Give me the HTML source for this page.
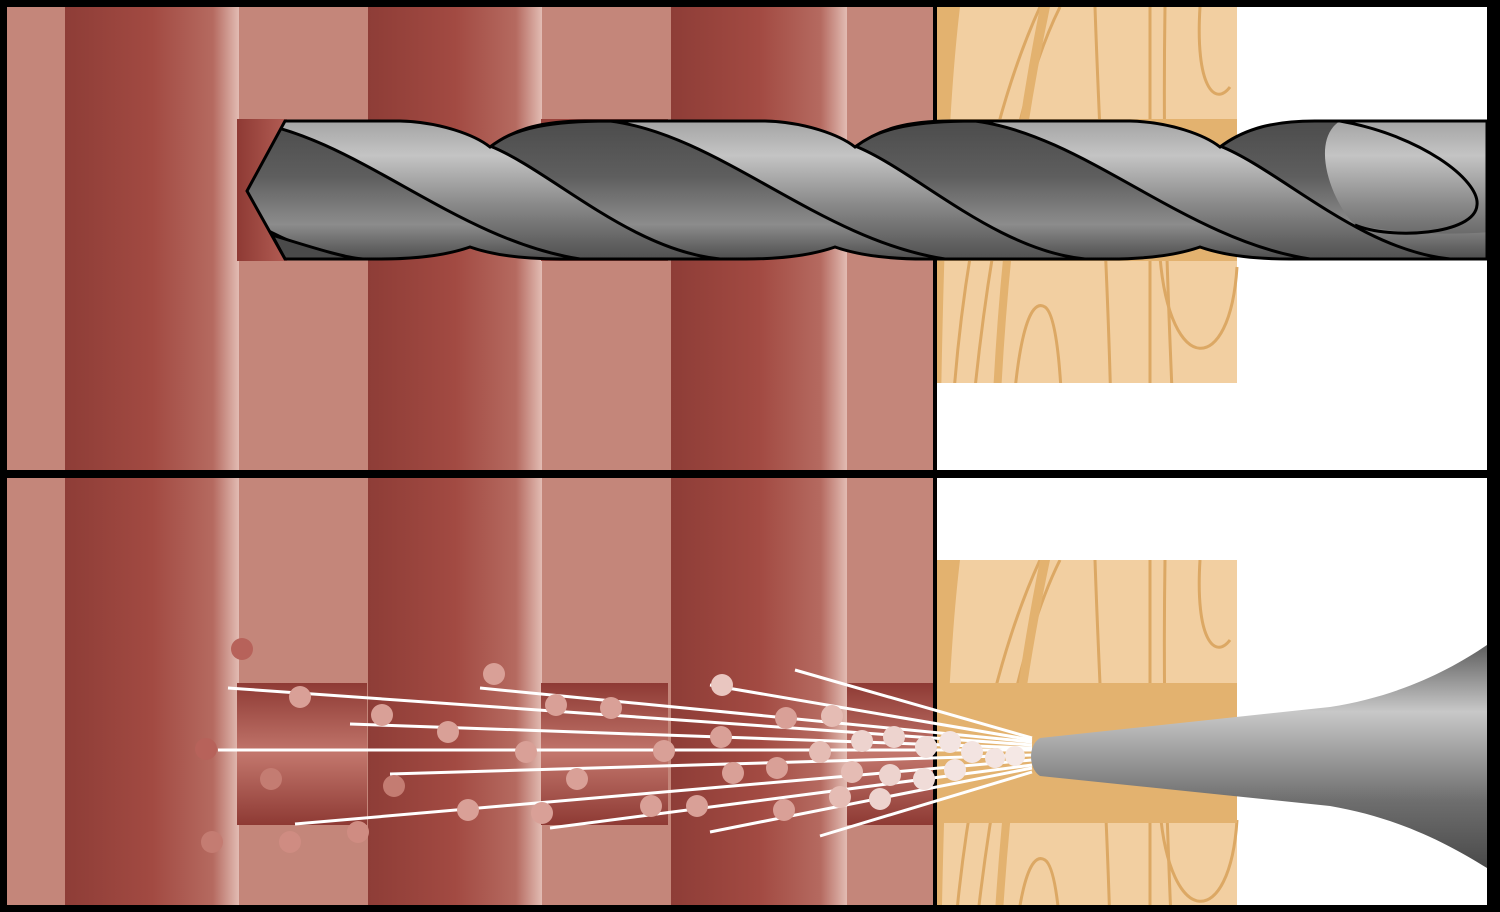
<!DOCTYPE html>
<html><head><meta charset="utf-8"><style>html,body{margin:0;padding:0;background:#000;width:1500px;height:912px;overflow:hidden}svg{display:block}</style></head><body>
<svg width="1500" height="912" viewBox="0 0 1500 912" xmlns="http://www.w3.org/2000/svg">
<defs>
<linearGradient id="col" x1="0" x2="1" y1="0" y2="0">
<stop offset="0" stop-color="#8e3d37"/><stop offset="0.5" stop-color="#a24a42"/><stop offset="0.85" stop-color="#b56a60"/><stop offset="1" stop-color="#e2bcb3"/></linearGradient>
<linearGradient id="hole" x1="0" x2="0" y1="0" y2="1"><stop offset="0" stop-color="#8e3a34"/><stop offset="0.5" stop-color="#c2766c"/><stop offset="1" stop-color="#8e3a34"/></linearGradient>
<linearGradient id="hole2" x1="0" x2="1" y1="0" y2="0"><stop offset="0" stop-color="#8e3a34"/><stop offset="1" stop-color="#b35d54"/></linearGradient>
<linearGradient id="light" x1="0" x2="0" y1="121" y2="259" gradientUnits="userSpaceOnUse"><stop offset="0" stop-color="#a4a4a4"/><stop offset="0.25" stop-color="#c4c4c4"/><stop offset="0.6" stop-color="#8a8a8a"/><stop offset="1" stop-color="#505050"/></linearGradient>
<linearGradient id="dark" x1="0" x2="0" y1="121" y2="259" gradientUnits="userSpaceOnUse"><stop offset="0" stop-color="#4c4c4c"/><stop offset="0.4" stop-color="#5e5e5e"/><stop offset="0.75" stop-color="#8c8c8c"/><stop offset="1" stop-color="#4e4e4e"/></linearGradient>
<linearGradient id="noz" x1="0" x2="0" y1="0" y2="1"><stop offset="0" stop-color="#5e5e5e"/><stop offset="0.3" stop-color="#c8c8c8"/><stop offset="0.7" stop-color="#6e6e6e"/><stop offset="1" stop-color="#4a4a4a"/></linearGradient>
<path id="sil" d="M247,191 L285,121 L400,121 C440,122 475,135 490,147 C515,128 545,121 585,121 L765,121 C805,122 840,135 855,147 C880,128 910,121 950,121 L1130,121 C1170,122 1205,135 1220,147 C1245,128 1275,121 1315,121 L1487,121 L1487,259 L1290,259 C1250,259 1220,254 1200,247 C1180,254 1150,259 1110,259 L925,259 C885,259 855,254 835,247 C815,254 785,259 745,259 L560,259 C520,259 490,254 470,247 C450,254 420,259 380,259 L285,259 Z"/>
<clipPath id="drill"><use href="#sil"/></clipPath>
<g id="wood">
<rect x="937" y="0" width="300" height="460" fill="#f2cfa1"/>
<g fill="none" stroke="#dca864" stroke-width="3">
<path d="M950,460 C955,300 985,120 1040,0"/><path d="M968,460 C980,300 1010,100 1060,0"/>
<path d="M1010,460 C1015,330 1030,290 1045,300 C1060,310 1062,400 1065,460"/>
<path d="M1095,0 C1100,150 1110,300 1112,460"/>
<path d="M1150,0 L1150,460"/><path d="M1165,0 C1162,200 1170,320 1175,460"/>
<path d="M1200,0 C1195,80 1215,100 1230,80"/><path d="M1160,250 C1170,370 1230,370 1237,260"/>
</g>
<path d="M937,0 L960,0 C948,100 943,250 940,460 L937,460Z" fill="#e3b26f"/>
<path d="M1040,0 C1010,150 995,300 990,460 L998,460 C1003,300 1018,150 1050,0Z" fill="#e3b26f"/>
</g>
</defs>
<rect width="1500" height="912" fill="#000"/>
<!-- top panel -->
<rect x="7" y="7" width="926" height="463" fill="#c4867a"/>
<rect x="65" y="7" width="174" height="463" fill="url(#col)"/>
<rect x="368" y="7" width="174" height="463" fill="url(#col)"/>
<rect x="671" y="7" width="176" height="463" fill="url(#col)"/>
<rect x="937" y="7" width="550" height="463" fill="#fff"/>
<svg x="0" y="7" width="1500" height="376" overflow="hidden"><use href="#wood"/></svg>
<rect x="937" y="119" width="300" height="142" fill="#e3b26f"/>
<rect x="237" y="119" width="50" height="142" fill="url(#hole2)"/>
<rect x="541" y="119" width="127" height="142" fill="#9a433c"/>
<rect x="933" y="7" width="4" height="898" fill="#000"/>
<!-- drill -->
<g clip-path="url(#drill)">
<rect x="240" y="115" width="1250" height="150" fill="url(#light)"/>
<g fill="url(#dark)" stroke="#000" stroke-width="3">
<path d="M125,146 C185,170 265,250 355,259 L580,259 C455,240 355,135 245,121 C185,121 150,128 125,146 Z"/>
<path d="M490,146 C550,170 630,250 720,259 L945,259 C820,240 720,135 610,121 C550,121 515,128 490,146 Z"/>
<path d="M855,146 C915,170 995,250 1085,259 L1310,259 C1185,240 1085,135 975,121 C915,121 880,128 855,146 Z"/>
</g>
<path d="M1220,146 C1280,170 1360,250 1450,259 L1490,259 L1490,232 C1440,236 1390,232 1355,225 C1330,200 1310,140 1340,121 C1280,121 1245,128 1220,146 Z" fill="url(#dark)"/>
<path d="M1220,146 C1280,170 1360,250 1450,259" fill="none" stroke="#000" stroke-width="3"/>
<path d="M272,235 C320,250 350,259 365,259 L285,259 Z" fill="#4a4a4a" stroke="#000" stroke-width="3"/>
<path d="M1340,121 C1420,135 1480,180 1477,205 C1475,235 1390,240 1355,225" fill="none" stroke="#000" stroke-width="3"/>
</g>
<use href="#sil" fill="none" stroke="#000" stroke-width="3"/>
<!-- dividers -->
<rect x="7" y="470" width="1480" height="8" fill="#000"/>
<!-- bottom panel -->
<rect x="7" y="478" width="926" height="427" fill="#c4867a"/>
<rect x="65" y="478" width="174" height="427" fill="url(#col)"/>
<rect x="368" y="478" width="174" height="427" fill="url(#col)"/>
<rect x="671" y="478" width="176" height="427" fill="url(#col)"/>
<rect x="937" y="478" width="550" height="427" fill="#fff"/>
<svg x="0" y="560" width="1500" height="345" overflow="hidden"><use href="#wood"/></svg>
<rect x="933" y="683" width="304" height="140" fill="#e3b26f"/>
<rect x="237" y="683" width="130" height="142" fill="url(#hole)"/>
<rect x="541" y="683" width="127" height="142" fill="url(#hole)"/>
<rect x="847" y="683" width="86" height="142" fill="url(#hole)"/>
<rect x="933" y="478" width="4" height="427" fill="#000"/>
<!-- spray -->
<g stroke="#fff" stroke-width="3">
<line x1="1032" y1="745" x2="228" y2="688"/><line x1="1032" y1="748" x2="350" y2="724"/>
<line x1="1032" y1="750" x2="218" y2="750"/><line x1="1032" y1="755" x2="390" y2="774"/>
<line x1="1032" y1="760" x2="295" y2="824"/><line x1="1032" y1="765" x2="550" y2="828"/>
<line x1="1032" y1="768" x2="710" y2="832"/><line x1="1032" y1="772" x2="820" y2="836"/>
<line x1="1032" y1="742" x2="480" y2="688"/><line x1="1032" y1="740" x2="710" y2="685"/>
<line x1="1032" y1="738" x2="795" y2="670"/>
</g>
<g fill="#d9a097">
<circle cx="242" cy="649" r="11" fill="#b7625a"/><circle cx="300" cy="697" r="11"/><circle cx="382" cy="715" r="11"/>
<circle cx="206" cy="749" r="11" fill="#b7625a"/><circle cx="271" cy="779" r="11" fill="#c47c72"/><circle cx="212" cy="842" r="11" fill="#c47c72"/>
<circle cx="290" cy="842" r="11" fill="#cf8c82"/><circle cx="358" cy="832" r="11" fill="#cf8c82"/><circle cx="394" cy="786" r="11" fill="#c47c72"/>
<circle cx="448" cy="732" r="11"/><circle cx="494" cy="674" r="11"/><circle cx="468" cy="810" r="11"/>
<circle cx="526" cy="752" r="11"/><circle cx="556" cy="705" r="11"/><circle cx="577" cy="779" r="11"/>
<circle cx="542" cy="813" r="11"/><circle cx="611" cy="708" r="11"/><circle cx="651" cy="806" r="11"/>
<circle cx="664" cy="751" r="11"/><circle cx="697" cy="806" r="11"/><circle cx="721" cy="737" r="11"/>
<circle cx="733" cy="773" r="11"/><circle cx="722" cy="685" r="11" fill="#e9c6c0"/><circle cx="777" cy="768" r="11"/>
<circle cx="786" cy="718" r="11"/><circle cx="784" cy="810" r="11"/><circle cx="820" cy="752" r="11" fill="#e5bcb4"/>
<circle cx="832" cy="716" r="11" fill="#e5bcb4"/><circle cx="852" cy="772" r="11" fill="#e5bcb4"/><circle cx="840" cy="797" r="11" fill="#e5bcb4"/>
<circle cx="862" cy="741" r="11" fill="#edd3ce"/><circle cx="894" cy="737" r="11" fill="#edd3ce"/><circle cx="890" cy="775" r="11" fill="#edd3ce"/>
<circle cx="880" cy="799" r="11" fill="#edd3ce"/><circle cx="926" cy="747" r="11" fill="#f0dcd8"/><circle cx="924" cy="779" r="11" fill="#f0dcd8"/>
<circle cx="950" cy="742" r="11" fill="#f3e4e1"/><circle cx="955" cy="770" r="11" fill="#f3e4e1"/><circle cx="972" cy="752" r="11" fill="#f3e4e1"/>
<circle cx="995" cy="758" r="10" fill="#f3e4e1"/><circle cx="1015" cy="756" r="10" fill="#f5e8e5"/>
</g>
<!-- nozzle -->
<path d="M1040,738 C1028,745 1028,768 1040,776 L1330,806 C1400,818 1450,845 1487,868 L1487,645 C1450,670 1400,696 1330,707 Z" fill="url(#noz)"/>
<rect x="1487" y="0" width="13" height="912" fill="#000"/>
</svg>
</body></html>
